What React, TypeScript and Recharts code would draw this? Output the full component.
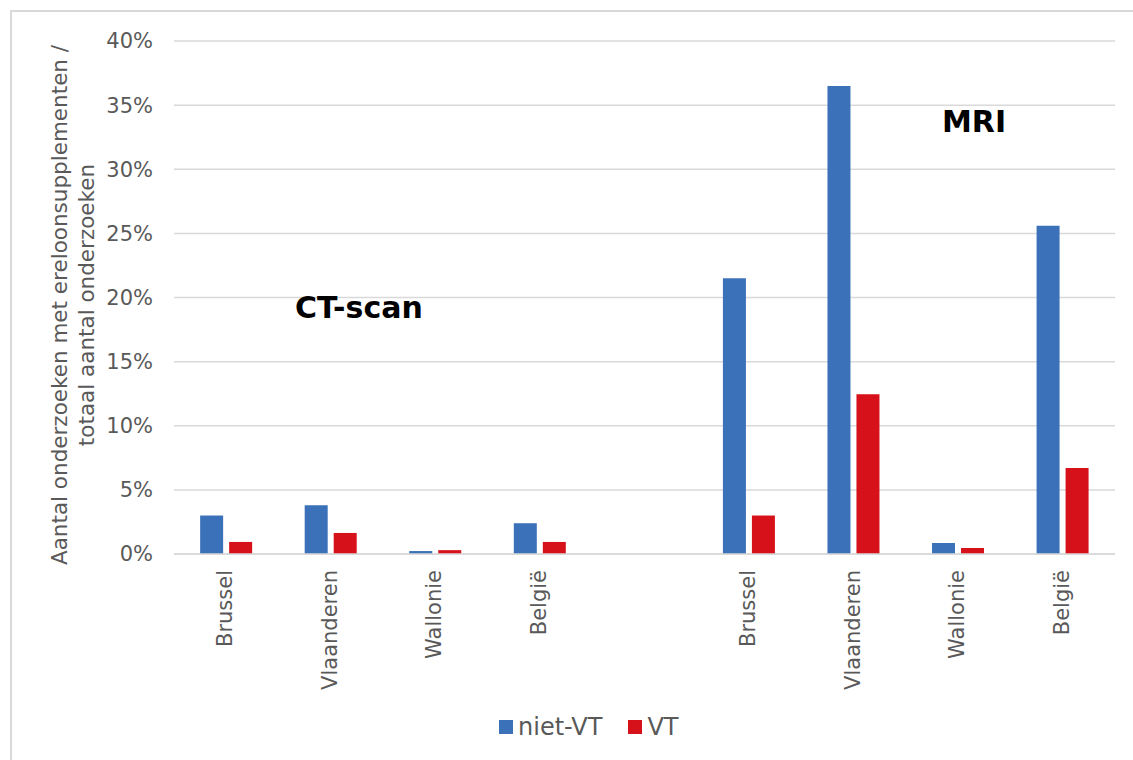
import React from "react";
import { BarChart, Bar, XAxis, YAxis, CartesianGrid } from "recharts";

// categories: CT-scan group, empty spacer, MRI group
const categories = ["Brussel", "Vlaanderen", "Wallonie", "België", "", "Brussel", "Vlaanderen", "Wallonie", "België"];
const nietVT = [3.0, 3.8, 0.23, 2.4, null, 21.5, 36.5, 0.86, 25.6];
const VT = [0.94, 1.64, 0.3, 0.94, null, 3.0, 12.45, 0.47, 6.7];
const yTicks = [0, 5, 10, 15, 20, 25, 30, 35, 40];

const data = categories.map((name, i) => ({
  id: `c${i}`,
  name,
  nietVT: nietVT[i],
  VT: VT[i],
}));

const FONT = "'DejaVu Sans', Verdana, sans-serif";
const GREY = "#595959";
const BLUE = "#3b71b8";
const RED = "#d7111a";

const XTick = (props: any) => {
  const { x, payload } = props;
  const label = categories[payload.index] ?? "";
  return (
    <text
      transform={`translate(${x - 1},570) rotate(-90)`}
      textAnchor="end"
      dominantBaseline="central"
      fill={GREY}
      fontSize={21}
      fontFamily={FONT}
    >
      {label}
    </text>
  );
};

const YLabel = () => (
  <g fill={GREY} fontSize={21.5} fontFamily={FONT}>
    <text transform="translate(59,305) rotate(-90)" textAnchor="middle" dominantBaseline="central">
      Aantal onderzoeken met ereloonsupplementen /
    </text>
    <text transform="translate(86,305) rotate(-90)" textAnchor="middle" dominantBaseline="central">
      totaal aantal onderzoeken
    </text>
  </g>
);

export default function App() {
  return (
    <div style={{ position: "absolute", left: 0, top: 0, width: 1133, height: 760, overflow: "hidden", background: "#fff", fontFamily: FONT }}>
      <div style={{ position: "absolute", left: 10, top: 10, width: 1200, height: 800, border: "2px solid #d9d9d9" }} />
      <BarChart
        width={1133}
        height={760}
        data={data}
        margin={{ top: 41, right: 18, left: 0, bottom: 0 }}
        barCategoryGap="25%"
        barGap={6}
        style={{ position: "absolute", left: 0, top: 0 }}
      >
        <CartesianGrid vertical={false} stroke="#d9d9d9" strokeWidth={1.5} />
        <XAxis
          dataKey="id"
          height={206}
          interval={0}
          tickLine={false}
          axisLine={{ stroke: "#d9d9d9", strokeWidth: 1.5 }}
          tick={<XTick />}
        />
        <YAxis
          width={174}
          domain={[0, 40]}
          ticks={yTicks}
          tickFormatter={(v: number) => `${v}%`}
          axisLine={false}
          tickLine={false}
          tickMargin={15}
          tick={{ fill: GREY, fontSize: 21, fontFamily: FONT }}
          label={<YLabel />}
        />
        <Bar dataKey="nietVT" fill={BLUE} isAnimationActive={false} />
        <Bar dataKey="VT" fill={RED} isAnimationActive={false} />
      </BarChart>
      <div style={{ position: "absolute", left: 295, top: 290, fontSize: 30, fontWeight: "bold", color: "#000" }}>CT-scan</div>
      <div style={{ position: "absolute", left: 942, top: 104, fontSize: 30, fontWeight: "bold", color: "#000" }}>MRI</div>
      <div style={{ position: "absolute", left: 499, top: 712, height: 30, display: "flex", alignItems: "center", fontSize: 24, color: GREY }}>
        <span style={{ display: "inline-block", width: 14, height: 14, background: BLUE, marginRight: 5 }} />
        <span>niet-VT</span>
        <span style={{ display: "inline-block", width: 14, height: 14, background: RED, marginRight: 5, marginLeft: 26 }} />
        <span>VT</span>
      </div>
    </div>
  );
}
